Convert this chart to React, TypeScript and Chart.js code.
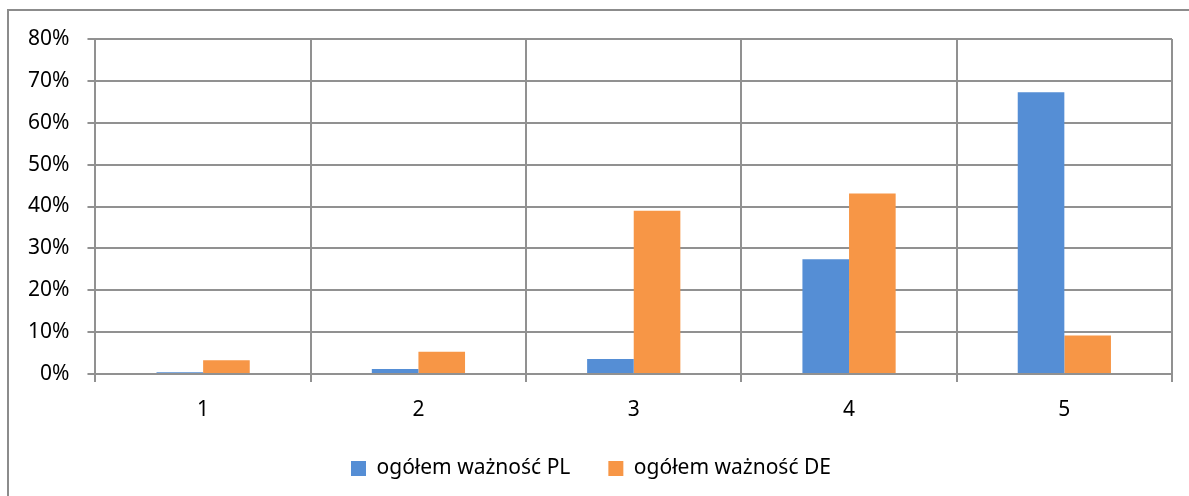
import React, { useEffect, useRef } from "react";
import { Chart, registerables } from "chart.js";

Chart.register(...registerables);

const categories = ["1", "2", "3", "4", "5"];
const seriesPL = [0.004, 0.012, 0.036, 0.274, 0.673];
const seriesDE = [0.033, 0.053, 0.39, 0.431, 0.092];
const seriesNames = ["ogółem ważność PL", "ogółem ważność DE"];
const yTicksMax = 0.8;

const FONT = "'Noto Sans', 'Open Sans', sans-serif";
const GRID = "#919191";

export default function App() {
  const ref = useRef<HTMLCanvasElement | null>(null);

  useEffect(() => {
    if (!ref.current) return;
    const chart = new Chart(ref.current, {
      type: "bar",
      data: {
        labels: categories,
        datasets: [
          {
            label: seriesNames[0],
            data: seriesPL,
            backgroundColor: "#558ED5",
            borderWidth: 0,
          },
          {
            label: seriesNames[1],
            data: seriesDE,
            backgroundColor: "#F79646",
            borderWidth: 0,
          },
        ],
      },
      options: {
        animation: false,
        responsive: false,
        maintainAspectRatio: false,
        layout: { padding: { left: 10, right: 17, top: 39, bottom: 7 } },
        datasets: {
          bar: { categoryPercentage: 0.433, barPercentage: 1 },
        },
        plugins: {
          tooltip: { enabled: false },
          title: { display: false },
          legend: {
            position: "bottom",
            labels: {
              boxWidth: 15,
              boxHeight: 15,
              padding: 38,
              color: "#000",
              font: { family: FONT, size: 21 },
            },
          },
        },
        scales: {
          x: {
            grid: {
              offset: true,
              color: GRID,
              lineWidth: 2,
              tickLength: 8,
            },
            border: { color: GRID, width: 2 },
            ticks: {
              color: "#000",
              padding: 15,
              font: { family: FONT, size: 21 },
            },
            afterFit: (scale: any) => {
              scale.height = 46;
            },
          },
          y: {
            min: 0,
            max: yTicksMax,
            grid: { color: GRID, lineWidth: 2, tickLength: 8 },
            border: { color: GRID, width: 2 },
            ticks: {
              stepSize: 0.1,
              color: "#000",
              padding: 18,
              font: { family: FONT, size: 21 },
              callback: (v: any) => Math.round(Number(v) * 100) + "%",
            },
          },
        },
      },
    });
    return () => chart.destroy();
  }, []);

  return (
    <div
      style={{
        position: "fixed",
        left: 0,
        top: 0,
        width: 1189,
        height: 496,
        overflow: "hidden",
        background: "#fff",
      }}
    >
      <div
        style={{
          position: "absolute",
          left: 7,
          top: 9,
          width: 1300,
          height: 600,
          borderLeft: "2px solid #8c8c8c",
          borderTop: "2px solid #8c8c8c",
          boxSizing: "border-box",
        }}
      />
      <canvas
        ref={ref}
        width={1189}
        height={496}
        style={{ position: "absolute", left: 0, top: 0, width: 1189, height: 496 }}
      />
    </div>
  );
}
